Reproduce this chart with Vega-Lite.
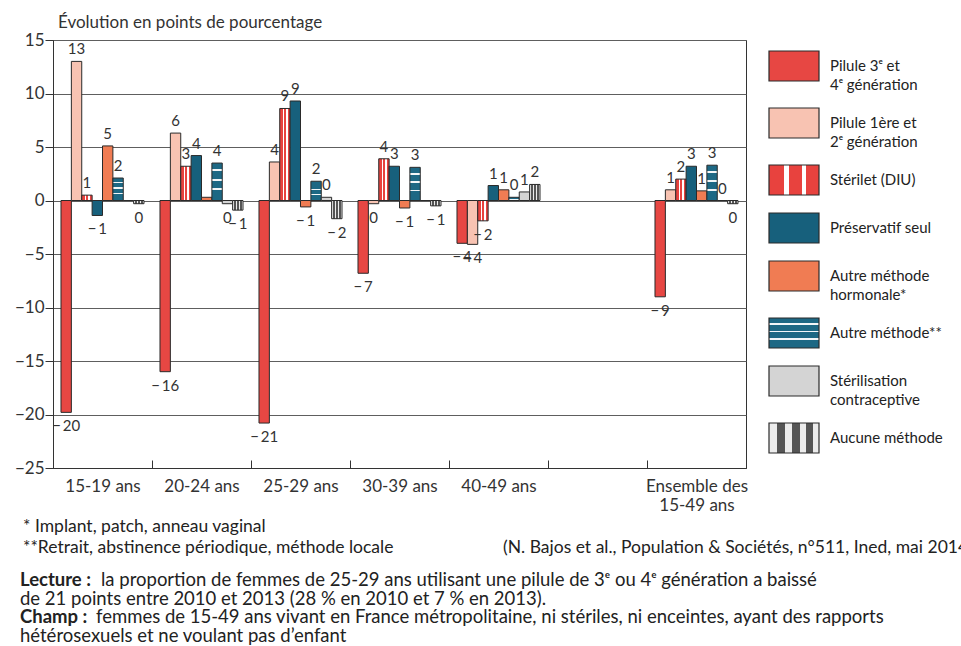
{
  "$schema": "https://vega.github.io/schema/vega-lite/v6.json",
  "background": "white",
  "padding": {"left": 13, "top": 13, "right": 0, "bottom": 0},
  "config": {
    "font": "Lato",
    "view": {"stroke": "#333", "strokeWidth": 1},
    "style": {"guide-label": {"lineHeight": 19}}
  },
  "resolve": {"legend": {"color": "independent"}},
  "spacing": 4,
  "vconcat": [
    {
      "width": 693,
      "height": 428,
      "title": {"text": "Évolution en points de pourcentage", "anchor": "start", "frame": "group", "fontSize": 17, "fontWeight": "normal", "color": "#333", "font": "Lato", "offset": -1, "dx": 5},
      "data": {"values": [
        {"groupe": "15-19 ans", "methode": "Pilule 3ᵉ et 4ᵉ génération", "valeur": -19.8, "etiquette": "−\u200920"},
        {"groupe": "15-19 ans", "methode": "Pilule 1ère et 2ᵉ génération", "valeur": 13.0, "etiquette": "13"},
        {"groupe": "15-19 ans", "methode": "Stérilet (DIU)", "valeur": 0.5, "etiquette": "1"},
        {"groupe": "15-19 ans", "methode": "Préservatif seul", "valeur": -1.4, "etiquette": "−\u20091"},
        {"groupe": "15-19 ans", "methode": "Autre méthode hormonale*", "valeur": 5.1, "etiquette": "5"},
        {"groupe": "15-19 ans", "methode": "Autre méthode**", "valeur": 2.1, "etiquette": "2"},
        {"groupe": "15-19 ans", "methode": "Stérilisation contraceptive", "valeur": 0, "etiquette": ""},
        {"groupe": "15-19 ans", "methode": "Aucune méthode", "valeur": -0.3, "etiquette": "0"},
        {"groupe": "20-24 ans", "methode": "Pilule 3ᵉ et 4ᵉ génération", "valeur": -16.0, "etiquette": "−\u200916"},
        {"groupe": "20-24 ans", "methode": "Pilule 1ère et 2ᵉ génération", "valeur": 6.3, "etiquette": "6"},
        {"groupe": "20-24 ans", "methode": "Stérilet (DIU)", "valeur": 3.2, "etiquette": "3"},
        {"groupe": "20-24 ans", "methode": "Préservatif seul", "valeur": 4.2, "etiquette": "4"},
        {"groupe": "20-24 ans", "methode": "Autre méthode hormonale*", "valeur": 0.3, "etiquette": ""},
        {"groupe": "20-24 ans", "methode": "Autre méthode**", "valeur": 3.5, "etiquette": "4"},
        {"groupe": "20-24 ans", "methode": "Stérilisation contraceptive", "valeur": -0.3, "etiquette": "0"},
        {"groupe": "20-24 ans", "methode": "Aucune méthode", "valeur": -0.9, "etiquette": "−\u20091"},
        {"groupe": "25-29 ans", "methode": "Pilule 3ᵉ et 4ᵉ génération", "valeur": -20.8, "etiquette": "−\u200921"},
        {"groupe": "25-29 ans", "methode": "Pilule 1ère et 2ᵉ génération", "valeur": 3.6, "etiquette": "4"},
        {"groupe": "25-29 ans", "methode": "Stérilet (DIU)", "valeur": 8.6, "etiquette": "9"},
        {"groupe": "25-29 ans", "methode": "Préservatif seul", "valeur": 9.3, "etiquette": "9"},
        {"groupe": "25-29 ans", "methode": "Autre méthode hormonale*", "valeur": -0.6, "etiquette": "−\u20091"},
        {"groupe": "25-29 ans", "methode": "Autre méthode**", "valeur": 1.8, "etiquette": "2"},
        {"groupe": "25-29 ans", "methode": "Stérilisation contraceptive", "valeur": 0.3, "etiquette": "0"},
        {"groupe": "25-29 ans", "methode": "Aucune méthode", "valeur": -1.7, "etiquette": "−\u20092"},
        {"groupe": "30-39 ans", "methode": "Pilule 3ᵉ et 4ᵉ génération", "valeur": -6.8, "etiquette": "−\u20097"},
        {"groupe": "30-39 ans", "methode": "Pilule 1ère et 2ᵉ génération", "valeur": -0.3, "etiquette": "0"},
        {"groupe": "30-39 ans", "methode": "Stérilet (DIU)", "valeur": 3.9, "etiquette": "4"},
        {"groupe": "30-39 ans", "methode": "Préservatif seul", "valeur": 3.2, "etiquette": "3"},
        {"groupe": "30-39 ans", "methode": "Autre méthode hormonale*", "valeur": -0.7, "etiquette": "−\u20091"},
        {"groupe": "30-39 ans", "methode": "Autre méthode**", "valeur": 3.1, "etiquette": "3"},
        {"groupe": "30-39 ans", "methode": "Stérilisation contraceptive", "valeur": 0, "etiquette": ""},
        {"groupe": "30-39 ans", "methode": "Aucune méthode", "valeur": -0.5, "etiquette": "−\u20091"},
        {"groupe": "40-49 ans", "methode": "Pilule 3ᵉ et 4ᵉ génération", "valeur": -4.0, "etiquette": "−\u20094"},
        {"groupe": "40-49 ans", "methode": "Pilule 1ère et 2ᵉ génération", "valeur": -4.1, "etiquette": "−\u20094"},
        {"groupe": "40-49 ans", "methode": "Stérilet (DIU)", "valeur": -1.9, "etiquette": "−\u20092"},
        {"groupe": "40-49 ans", "methode": "Préservatif seul", "valeur": 1.4, "etiquette": "1"},
        {"groupe": "40-49 ans", "methode": "Autre méthode hormonale*", "valeur": 1.0, "etiquette": "1"},
        {"groupe": "40-49 ans", "methode": "Autre méthode**", "valeur": 0.3, "etiquette": "0"},
        {"groupe": "40-49 ans", "methode": "Stérilisation contraceptive", "valeur": 0.8, "etiquette": "1"},
        {"groupe": "40-49 ans", "methode": "Aucune méthode", "valeur": 1.5, "etiquette": "2"},
        {"groupe": "Ensemble des 15-49 ans", "methode": "Pilule 3ᵉ et 4ᵉ génération", "valeur": -9.0, "etiquette": "−\u20099"},
        {"groupe": "Ensemble des 15-49 ans", "methode": "Pilule 1ère et 2ᵉ génération", "valeur": 1.0, "etiquette": "1"},
        {"groupe": "Ensemble des 15-49 ans", "methode": "Stérilet (DIU)", "valeur": 2.0, "etiquette": "2"},
        {"groupe": "Ensemble des 15-49 ans", "methode": "Préservatif seul", "valeur": 3.2, "etiquette": "3"},
        {"groupe": "Ensemble des 15-49 ans", "methode": "Autre méthode hormonale*", "valeur": 0.9, "etiquette": "1"},
        {"groupe": "Ensemble des 15-49 ans", "methode": "Autre méthode**", "valeur": 3.3, "etiquette": "3"},
        {"groupe": "Ensemble des 15-49 ans", "methode": "Stérilisation contraceptive", "valeur": 0, "etiquette": "0"},
        {"groupe": "Ensemble des 15-49 ans", "methode": "Aucune méthode", "valeur": -0.3, "etiquette": "0"}
      ]},
      "encoding": {
        "x": {
          "field": "groupe", "type": "nominal",
          "scale": {"domain": ["15-19 ans", "20-24 ans", "25-29 ans", "30-39 ans", "40-49 ans", " ", "Ensemble des 15-49 ans"], "paddingInner": 0, "paddingOuter": 0},
          "axis": {"title": null, "labelAngle": 0, "tickBand": "extent", "tickSize": -8, "tickColor": "#333", "domainColor": "#333", "labelFontSize": 17, "labelColor": "#333", "labelPadding": 18, "labelFont": "Lato",
            "labelExpr": "datum.label == 'Ensemble des 15-49 ans' ? ['Ensemble des', '15-49 ans'] : datum.label"}
        },
        "xOffset": {
          "field": "methode", "type": "nominal",
          "scale": {"domain": ["Pilule 3ᵉ et 4ᵉ génération", "Pilule 1ère et 2ᵉ génération", "Stérilet (DIU)", "Préservatif seul", "Autre méthode hormonale*", "Autre méthode**", "Stérilisation contraceptive", "Aucune méthode"], "paddingInner": 0, "paddingOuter": 0.77}
        },
        "y": {
          "field": "valeur", "type": "quantitative",
          "scale": {"domain": [-25, 15], "nice": false},
          "axis": {"title": null, "values": [-25, -20, -15, -10, -5, 0, 5, 10, 15], "grid": true, "gridColor": "#5e5e5e", "gridWidth": 1, "domainColor": "#333", "tickColor": "#333", "tickSize": 8, "labelFontSize": 17, "labelColor": "#333", "labelPadding": 1, "labelFont": "Lato"}
        }
      },
      "layer": [
        {
          "mark": {"type": "bar", "stroke": "#2a2a2a", "strokeWidth": 1},
          "encoding": {
            "color": {
              "field": "methode", "type": "nominal",
              "scale": {
                "domain": ["Pilule 3ᵉ et 4ᵉ génération", "Pilule 1ère et 2ᵉ génération", "Stérilet (DIU)", "Préservatif seul", "Autre méthode hormonale*", "Autre méthode**", "Stérilisation contraceptive", "Aucune méthode"],
                "range": [
                  "#e74743",
                  "#f8c3b2",
                  {"expr": "{gradient: 'linear', x1: 0, y1: 0, x2: 1, y2: 0, stops: [{offset: 0, color: '#e8423e'}, {offset: 0.3, color: '#e8423e'}, {offset: 0.3, color: '#ffffff'}, {offset: 0.4, color: '#ffffff'}, {offset: 0.4, color: '#e8423e'}, {offset: 0.65, color: '#e8423e'}, {offset: 0.65, color: '#ffffff'}, {offset: 0.75, color: '#ffffff'}, {offset: 0.75, color: '#e8423e'}, {offset: 1, color: '#e8423e'}]}"},
                  "#17607c",
                  "#f07c53",
                  {"expr": "{gradient: 'linear', x1: 0, y1: 0, x2: 0, y2: 1, stops: [{offset: 0, color: '#1d6884'}, {offset: 0.17, color: '#1d6884'}, {offset: 0.17, color: '#f2f6f8'}, {offset: 0.22, color: '#f2f6f8'}, {offset: 0.22, color: '#1d6884'}, {offset: 0.42, color: '#1d6884'}, {offset: 0.42, color: '#f2f6f8'}, {offset: 0.47, color: '#f2f6f8'}, {offset: 0.47, color: '#1d6884'}, {offset: 0.67, color: '#1d6884'}, {offset: 0.67, color: '#f2f6f8'}, {offset: 0.72, color: '#f2f6f8'}, {offset: 0.72, color: '#1d6884'}, {offset: 1, color: '#1d6884'}]}"},
                  "#d4d4d4",
                  {"expr": "{gradient: 'linear', x1: 0, y1: 0, x2: 1, y2: 0, stops: [{offset: 0, color: '#ececec'}, {offset: 0.15, color: '#ececec'}, {offset: 0.15, color: '#555555'}, {offset: 0.32, color: '#555555'}, {offset: 0.32, color: '#ececec'}, {offset: 0.45, color: '#ececec'}, {offset: 0.45, color: '#555555'}, {offset: 0.62, color: '#555555'}, {offset: 0.62, color: '#ececec'}, {offset: 0.75, color: '#ececec'}, {offset: 0.75, color: '#555555'}, {offset: 0.88, color: '#555555'}, {offset: 0.88, color: '#ececec'}, {offset: 1, color: '#ececec'}]}"}
                ]
              },
              "legend": {
                "title": null, "orient": "right", "offset": 22, "padding": 0,
                "symbolType": "M-1,-0.6L1,-0.6L1,0.6L-1,0.6Z", "symbolSize": 2500,
                "symbolStrokeColor": "#2a2a2a", "symbolStrokeWidth": 1.2, "symbolOpacity": 1,
                "labelFontSize": 15, "labelColor": "#222", "labelFont": "Lato", "labelOffset": 10, "labelLimit": 200, "rowPadding": 4,
                "labelExpr": "datum.label == 'Pilule 3ᵉ et 4ᵉ génération' ? ['Pilule 3ᵉ et', '4ᵉ génération'] : datum.label == 'Pilule 1ère et 2ᵉ génération' ? ['Pilule 1ère et', '2ᵉ génération'] : datum.label == 'Autre méthode hormonale*' ? ['Autre méthode', 'hormonale*'] : datum.label == 'Stérilisation contraceptive' ? ['Stérilisation', 'contraceptive'] : datum.label"
              }
            }
          }
        },
        {
          "transform": [{"filter": "datum.valeur >= 0"}],
          "mark": {"type": "text", "baseline": "bottom", "dy": -4, "fontSize": 15, "color": "#333", "font": "Lato"},
          "encoding": {"text": {"field": "etiquette"}}
        },
        {
          "transform": [{"filter": "datum.valeur < 0"}],
          "mark": {"type": "text", "baseline": "top", "dy": 7, "fontSize": 15, "color": "#333", "font": "Lato"},
          "encoding": {"text": {"field": "etiquette"}}
        }
      ]
    },
    {
      "width": 900,
      "height": 40,
      "view": {"stroke": null},
      "data": {"values": [
        {"ligne": 1, "cote": "gauche", "texte": "* Implant, patch, anneau vaginal"},
        {"ligne": 2, "cote": "gauche", "texte": "**Retrait, abstinence périodique, méthode locale"},
        {"ligne": 2, "cote": "droite", "texte": "(N. Bajos et al., Population & Sociétés, n°511, Ined, mai 2014)"}
      ]},
      "mark": {"type": "text", "align": "left", "baseline": "middle", "fontSize": 17.5, "color": "#222", "font": "Lato"},
      "encoding": {
        "x": {"field": "cote", "type": "nominal", "axis": null, "scale": {"type": "point", "domain": ["gauche", "droite"], "range": [-30, 450], "padding": 0}},
        "y": {"field": "ligne", "type": "ordinal", "axis": null, "scale": {"type": "point", "range": [0, 21], "padding": 0}},
        "text": {"field": "texte"}
      }
    },
    {
      "width": 900,
      "height": 60,
      "view": {"stroke": null},
      "data": {"values": [
        {"ligne": 1, "type": "cle", "texte": "Lecture :"},
        {"ligne": 1, "type": "suite-lecture", "texte": "la proportion de femmes de 25-29 ans utilisant une pilule de 3ᵉ ou 4ᵉ génération a baissé"},
        {"ligne": 2, "type": "suite", "texte": "de 21 points entre 2010 et 2013 (28 % en 2010 et 7 % en 2013)."},
        {"ligne": 3, "type": "cle", "texte": "Champ :"},
        {"ligne": 3, "type": "suite-champ", "texte": "femmes de 15-49 ans vivant en France métropolitaine, ni stériles, ni enceintes, ayant des rapports"},
        {"ligne": 4, "type": "suite", "texte": "hétérosexuels et ne voulant pas d’enfant"}
      ]},
      "encoding": {
        "y": {"field": "ligne", "type": "ordinal", "axis": null, "scale": {"type": "point", "range": [0, 56], "padding": 0}},
        "text": {"field": "texte"}
      },
      "layer": [
        {
          "transform": [{"filter": "datum.type == 'cle'"}],
          "mark": {"type": "text", "align": "left", "baseline": "middle", "fontSize": 18.5, "fontWeight": "bold", "color": "#222", "font": "Lato"},
          "encoding": {"x": {"value": -33}}
        },
        {
          "transform": [{"filter": "datum.type == 'suite'"}],
          "mark": {"type": "text", "align": "left", "baseline": "middle", "fontSize": 18.5, "color": "#222", "font": "Lato"},
          "encoding": {"x": {"value": -33}}
        },
        {
          "transform": [{"filter": "datum.type == 'suite-lecture'"}],
          "mark": {"type": "text", "align": "left", "baseline": "middle", "fontSize": 18.5, "color": "#222", "font": "Lato", "dx": 81},
          "encoding": {"x": {"value": -33}}
        },
        {
          "transform": [{"filter": "datum.type == 'suite-champ'"}],
          "mark": {"type": "text", "align": "left", "baseline": "middle", "fontSize": 18.5, "color": "#222", "font": "Lato", "dx": 76},
          "encoding": {"x": {"value": -33}}
        }
      ]
    }
  ]
}
